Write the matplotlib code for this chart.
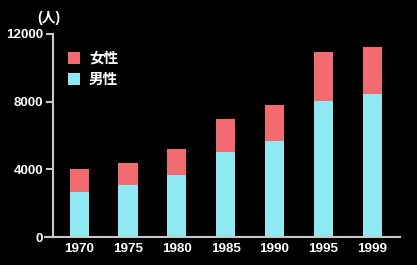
import numpy as np
import matplotlib.pyplot as plt

plt.rcParams['font.family'] = ['Liberation Sans', 'Noto Sans CJK JP', 'DejaVu Sans']

# 年份
years = ["1970", "1975", "1980", "1985", "1990", "1995", "1999"]
# 男性
male = [2650, 3050, 3650, 5000, 5650, 8050, 8450]
# 女性 (合计减去男性)
total = [4000, 4400, 5200, 6950, 7800, 10950, 11250]
female = [t - m for t, m in zip(total, male)]

red = "#f26b70"
cyan = "#8ee9f2"
grey = "#c8c8c8"

xticks = np.arange(len(years))

fig = plt.figure(figsize=(4.17, 2.65), dpi=100, facecolor="black")
ax = fig.add_axes([45 / 417, 28 / 265, 355 / 417, 203 / 265])
ax.set_facecolor("black")

w = 0.39
ax.bar(xticks, male, width=w, color=cyan, label="男性")
ax.bar(xticks, female, width=w, bottom=male, color=red, label="女性")

ax.set_xlim(-0.70, 6.57)
ax.set_ylim(0, 12000)
ax.set_yticks([0, 4000, 8000, 12000])
ax.set_xticks(xticks)
ax.set_xticklabels(years)

for s in ["top", "right"]:
    ax.spines[s].set_visible(False)
ax.spines["left"].set_position(("data", -0.54))
ax.spines["left"].set_color(grey)
ax.spines["bottom"].set_color(grey)
ax.spines["left"].set_linewidth(1.5)
ax.spines["bottom"].set_linewidth(1.5)

ax.tick_params(axis="y", colors=grey, length=5, width=1.5, pad=2, labelsize=9.6, labelcolor="white")
ax.tick_params(axis="x", length=0, pad=4, labelsize=9.6, labelcolor="white")
for lab in ax.get_xticklabels() + ax.get_yticklabels():
    lab.set_fontweight("bold")

# 单位
fig.text(37 / 417, 1 - 18 / 265, "(人)", color="white", fontsize=10, fontweight="bold",
         ha="left", va="center")

# 图例
h, l = ax.get_legend_handles_labels()
leg = ax.legend(h[::-1], l[::-1], loc="upper left", bbox_to_anchor=(0.048, 0.95),
                borderaxespad=0, frameon=False, handlelength=0.85, handleheight=0.85,
                handletextpad=0.6, labelspacing=0.35,
                prop={"size": 10.5, "weight": "bold",
                      "family": ["Noto Sans CJK JP", "DejaVu Sans"]})
for t in leg.get_texts():
    t.set_color("white")

plt.savefig("out.png", dpi=100, facecolor="black")
